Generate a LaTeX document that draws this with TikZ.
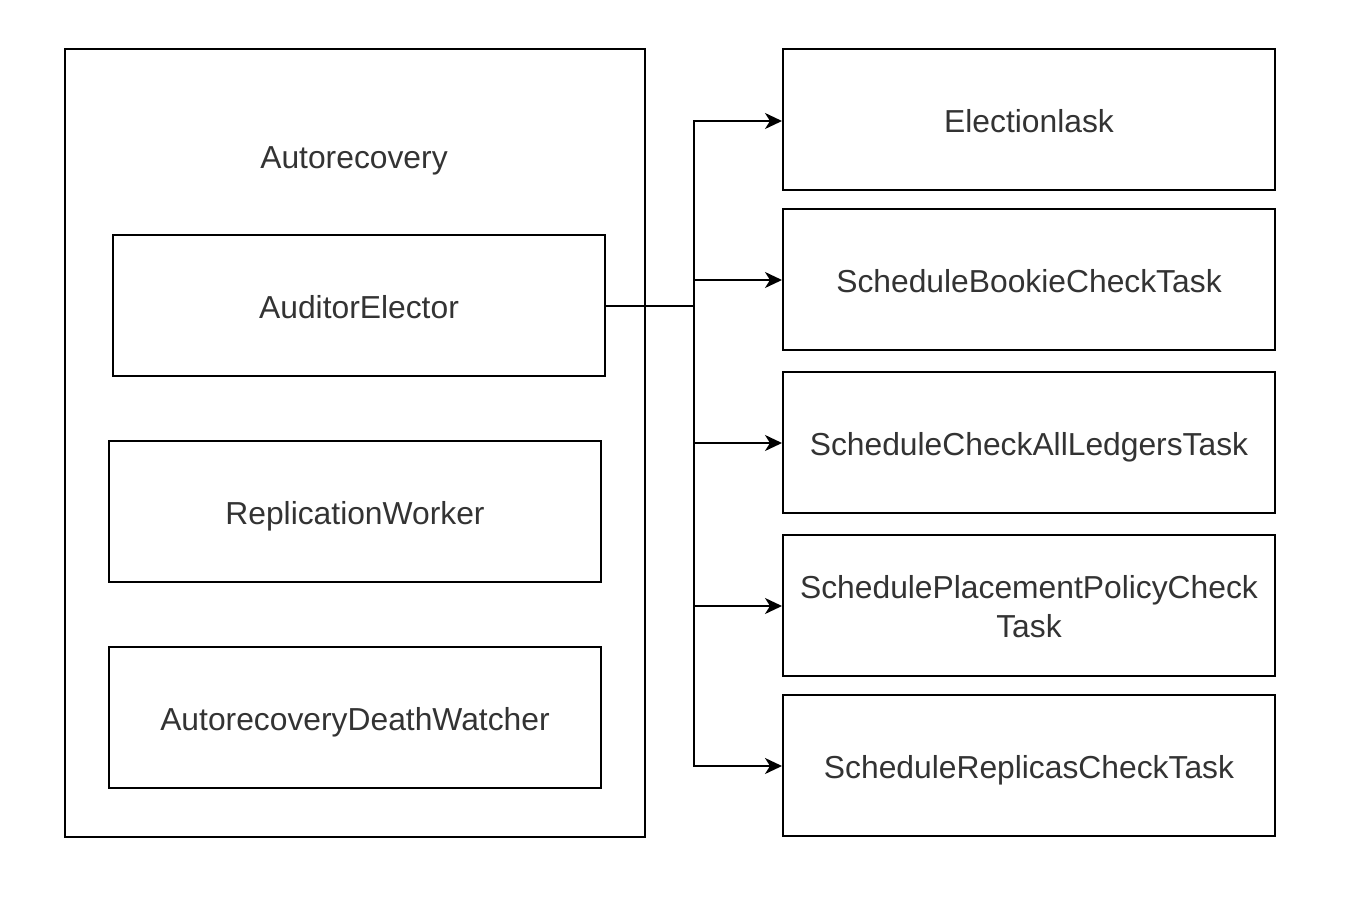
\documentclass[tikz,border=0pt]{standalone}
\usepackage{fontspec}
\setmainfont{Liberation Sans}
\usetikzlibrary{arrows.meta}
\definecolor{txt}{HTML}{333333}
\begin{document}
\begin{tikzpicture}[x=1pt,y=-1pt,
  txtstyle/.style={text=txt,font=\fontsize{31.8}{39}\selectfont,text height=32pt,text depth=6.4pt},
  box/.style={draw=black,line width=2pt,inner sep=0pt,minimum width=492pt,minimum height=141pt,
    txtstyle,align=center},
  lbl/.style={txtstyle,inner sep=0pt},
  arr/.style={line width=2pt,-{Stealth[length=17pt,width=16pt,inset=5pt]}},
  conn/.style={line width=2pt}]
\useasboundingbox (0,0) rectangle (1352,902);
\node[draw=black,line width=2pt,minimum width=580pt,minimum height=788pt,inner sep=0pt] (outer) at (355,443) {};
\node[lbl] (title) at (354,156) {Autorecovery};
\node[box] (ae) at (359,305.5) {AuditorElector};
\node[box] (rw) at (355,511.5) {ReplicationWorker};
\node[box] (adw) at (355,717.5) {AutorecoveryDeathWatcher};
\node[box] (et) at (1029,119.5) {Electionlask};
\node[box] (sbct) at (1029,279.5) {ScheduleBookieCheckTask};
\node[box] (scalt) at (1029,442.5) {ScheduleCheckAllLedgersTask};
\node[box,text height=71pt] (sppct) at (1029,605.5) {SchedulePlacementPolicyCheck\\Task};
\node[box] (srct) at (1029,765.5) {ScheduleReplicasCheckTask};
\coordinate (j) at (694,305.5);
\draw[conn] (ae.east) -- (j);
\draw[arr] (j) |- ([yshift=-1.5pt]et.west);
\draw[arr] (j) |- ([yshift=-0.5pt]sbct.west);
\draw[arr] (j) |- ([yshift=-0.5pt]scalt.west);
\draw[arr] (j) |- ([yshift=-0.5pt]sppct.west);
\draw[arr] (j) |- ([yshift=-0.5pt]srct.west);
\end{tikzpicture}
\end{document}
